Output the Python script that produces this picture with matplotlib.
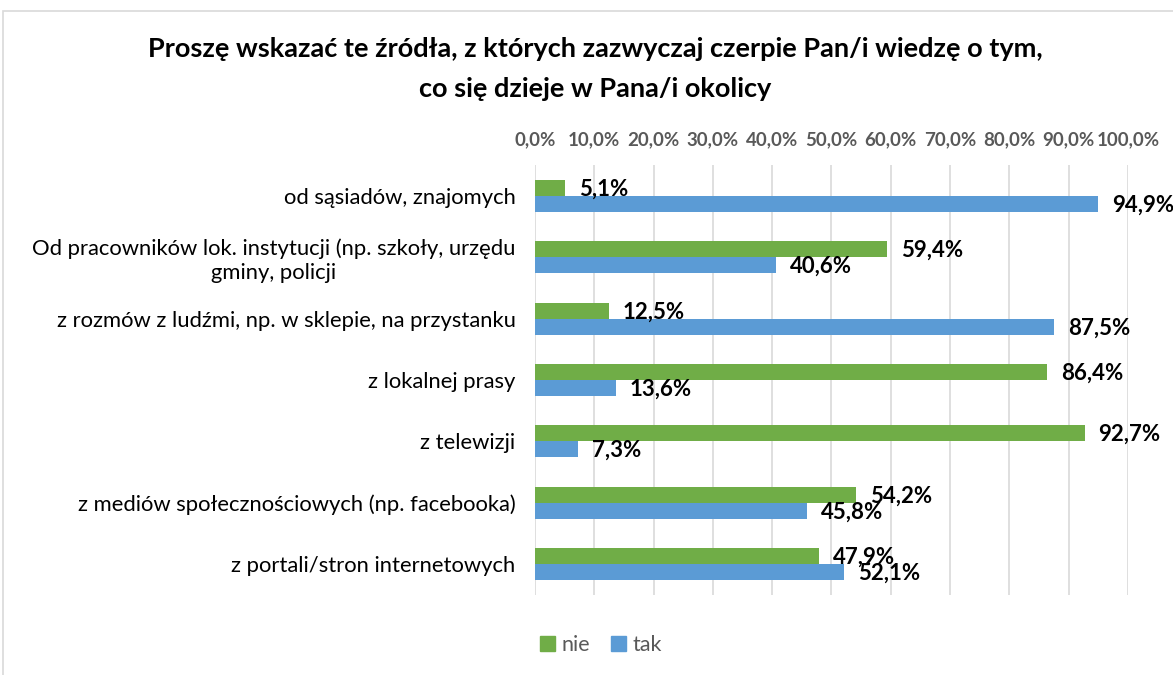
import matplotlib
matplotlib.use("Agg")
import matplotlib.pyplot as plt
import numpy as np
from matplotlib.patches import Rectangle, Patch

plt.rcParams['font.family'] = ['Lato', 'DejaVu Sans']

categories = ["od sąsiadów, znajomych",
              "Od pracowników lok. instytucji (np. szkoły, urzędu\ngminy, policji",
              "z rozmów z ludźmi, np. w sklepie, na przystanku",
              "z lokalnej prasy",
              "z telewizji",
              "z mediów społecznościowych (np. facebooka)",
              "z portali/stron internetowych"]
nie = [5.1, 59.4, 12.5, 86.4, 92.7, 54.2, 47.9]
tak = [94.9, 40.6, 87.5, 13.6, 7.3, 45.8, 52.1]
ticks = np.arange(0, 101, 10)

green = "#70AD47"
blue = "#5B9BD5"

fig = plt.figure(figsize=(11.73, 6.75), dpi=100)
ax = fig.add_axes([535/1173, 1-595/675, (1128-535)/1173, 430/675])

y = np.arange(len(categories))
h = 0.26
ax.barh(y - h/2, nie, height=h, color=green, label="nie", zorder=3)
ax.barh(y + h/2, tak, height=h, color=blue, label="tak", zorder=3)

for i in range(len(categories)):
    ax.annotate(f"{nie[i]:.1f}%".replace(".", ","), (nie[i], y[i] - h/2 + 0.02),
                xytext=(10, 0), textcoords="offset points", va="center",
                ha="left", fontsize=16, fontweight="bold", color="black", zorder=4)
    ax.annotate(f"{tak[i]:.1f}%".replace(".", ","), (tak[i], y[i] + h/2 + 0.02),
                xytext=(10, 0), textcoords="offset points", va="center",
                ha="left", fontsize=16, fontweight="bold", color="black", zorder=4)

ax.set_ylim(6.5, -0.5)
ax.set_xlim(0, 100)
ax.set_yticks(y)
ax.set_yticklabels(categories, fontsize=15.8, multialignment="center")
ax.set_xticks(ticks)
ax.set_xticklabels([f"{t:.1f}%".replace(".", ",") for t in ticks],
                   fontsize=13.5, fontweight="bold", color="#595959")
ax.xaxis.tick_top()
ax.tick_params(axis="both", length=0)
ax.tick_params(axis="x", pad=12)
ax.tick_params(axis="y", pad=14)
ax.grid(axis="x", color="#D9D9D9", linewidth=1.2, zorder=0)
for s in ax.spines.values():
    s.set_visible(False)

fig.text(595/1173, 1-49/675, "Proszę wskazać te źródła, z których zazwyczaj czerpie Pan/i wiedzę o tym,",
         ha="center", va="center", fontsize=19.5, fontweight="bold")
fig.text(595/1173, 1-89/675, "co się dzieje w Pana/i okolicy",
         ha="center", va="center", fontsize=19.5, fontweight="bold")

handles = [Patch(color=green, label="nie"), Patch(color=blue, label="tak")]
fig.legend(handles=handles, loc="center", bbox_to_anchor=(601/1173, 1-645/675),
           ncol=2, frameon=False, fontsize=15.5, handlelength=0.7, handleheight=0.7,
           handletextpad=0.3, columnspacing=1.0, labelcolor="#595959")

fig.patches.append(Rectangle((3/1173, -0.01), 1.05, 1-11/675 + 0.01,
                             transform=fig.transFigure, fill=False,
                             edgecolor="#D9D9D9", linewidth=1.2))

fig.savefig("out.png", dpi=100)
